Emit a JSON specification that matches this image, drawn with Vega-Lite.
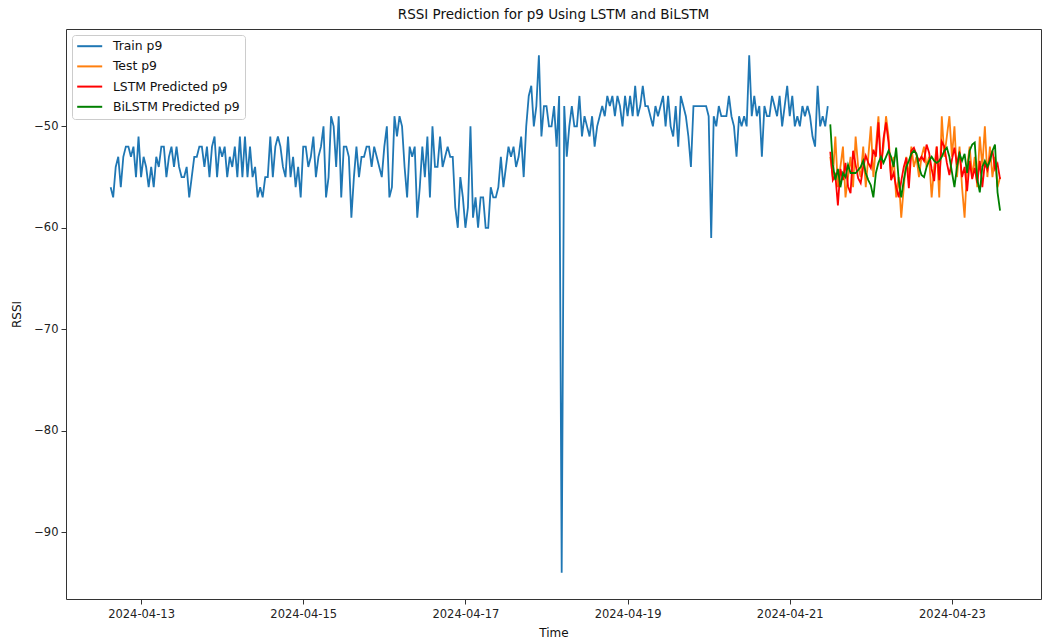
{
"$schema":"https://vega.github.io/schema/vega-lite/v6.json",
"width":975,"height":570,
"autosize":{"type":"none"},
"padding":{"left":66,"top":29,"right":3,"bottom":44},
"title":{"text":"RSSI Prediction for p9 Using LSTM and BiLSTM","anchor":"middle"},
"data":{"values":[
{"t":"2024-04-12T15:00","tr":-56},{"t":"2024-04-12T15:45","tr":-57},{"t":"2024-04-12T16:30","tr":-54},{"t":"2024-04-12T17:15","tr":-53},{"t":"2024-04-12T18:00","tr":-56},{"t":"2024-04-12T18:45","tr":-53},{"t":"2024-04-12T19:30","tr":-52},{"t":"2024-04-12T20:15","tr":-52},{"t":"2024-04-12T21:00","tr":-53},{"t":"2024-04-12T21:45","tr":-52},{"t":"2024-04-12T22:30","tr":-55},{"t":"2024-04-12T23:15","tr":-51},
{"t":"2024-04-13T00:00","tr":-55},{"t":"2024-04-13T00:45","tr":-53},{"t":"2024-04-13T01:30","tr":-54},{"t":"2024-04-13T02:15","tr":-56},{"t":"2024-04-13T03:00","tr":-54},{"t":"2024-04-13T03:45","tr":-56},{"t":"2024-04-13T04:30","tr":-53},{"t":"2024-04-13T05:15","tr":-54},{"t":"2024-04-13T06:00","tr":-52},{"t":"2024-04-13T06:45","tr":-52},{"t":"2024-04-13T07:30","tr":-55},{"t":"2024-04-13T08:15","tr":-53},{"t":"2024-04-13T09:00","tr":-52},{"t":"2024-04-13T09:45","tr":-54},{"t":"2024-04-13T10:30","tr":-52},{"t":"2024-04-13T11:15","tr":-54},{"t":"2024-04-13T12:00","tr":-55},{"t":"2024-04-13T12:45","tr":-55},{"t":"2024-04-13T13:30","tr":-54},{"t":"2024-04-13T14:15","tr":-57},{"t":"2024-04-13T15:00","tr":-55},{"t":"2024-04-13T15:45","tr":-53},{"t":"2024-04-13T16:30","tr":-53},{"t":"2024-04-13T17:15","tr":-52},{"t":"2024-04-13T18:00","tr":-52},{"t":"2024-04-13T18:45","tr":-54},{"t":"2024-04-13T19:30","tr":-52},{"t":"2024-04-13T20:15","tr":-55},{"t":"2024-04-13T21:00","tr":-52},{"t":"2024-04-13T21:45","tr":-51},{"t":"2024-04-13T22:30","tr":-55},{"t":"2024-04-13T23:15","tr":-52},
{"t":"2024-04-14T00:00","tr":-53},{"t":"2024-04-14T00:45","tr":-52},{"t":"2024-04-14T01:30","tr":-55},{"t":"2024-04-14T02:15","tr":-53},{"t":"2024-04-14T03:00","tr":-54},{"t":"2024-04-14T03:45","tr":-52},{"t":"2024-04-14T04:30","tr":-55},{"t":"2024-04-14T05:15","tr":-51},{"t":"2024-04-14T06:00","tr":-55},{"t":"2024-04-14T06:45","tr":-51},{"t":"2024-04-14T07:30","tr":-55},{"t":"2024-04-14T08:15","tr":-52},{"t":"2024-04-14T09:00","tr":-55},{"t":"2024-04-14T09:45","tr":-54},{"t":"2024-04-14T10:30","tr":-57},{"t":"2024-04-14T11:15","tr":-56},{"t":"2024-04-14T12:00","tr":-57},{"t":"2024-04-14T12:45","tr":-55},{"t":"2024-04-14T13:30","tr":-55},{"t":"2024-04-14T14:15","tr":-51},{"t":"2024-04-14T15:00","tr":-55},{"t":"2024-04-14T15:45","tr":-52},{"t":"2024-04-14T16:30","tr":-51},{"t":"2024-04-14T17:15","tr":-52},{"t":"2024-04-14T18:00","tr":-54},{"t":"2024-04-14T18:45","tr":-55},{"t":"2024-04-14T19:30","tr":-51},{"t":"2024-04-14T20:15","tr":-55},{"t":"2024-04-14T21:00","tr":-53},{"t":"2024-04-14T21:45","tr":-56},{"t":"2024-04-14T22:30","tr":-54},{"t":"2024-04-14T23:15","tr":-57},
{"t":"2024-04-15T00:00","tr":-52},{"t":"2024-04-15T00:45","tr":-52},{"t":"2024-04-15T01:30","tr":-54},{"t":"2024-04-15T02:15","tr":-53},{"t":"2024-04-15T03:00","tr":-51},{"t":"2024-04-15T03:45","tr":-55},{"t":"2024-04-15T04:30","tr":-53},{"t":"2024-04-15T05:15","tr":-52},{"t":"2024-04-15T06:00","tr":-50},{"t":"2024-04-15T06:45","tr":-57},{"t":"2024-04-15T07:30","tr":-55},{"t":"2024-04-15T08:15","tr":-49},{"t":"2024-04-15T09:00","tr":-50},{"t":"2024-04-15T09:45","tr":-54},{"t":"2024-04-15T10:30","tr":-49},{"t":"2024-04-15T11:15","tr":-57},{"t":"2024-04-15T12:00","tr":-52},{"t":"2024-04-15T12:45","tr":-52},{"t":"2024-04-15T13:30","tr":-53},{"t":"2024-04-15T14:15","tr":-59},{"t":"2024-04-15T15:00","tr":-55},{"t":"2024-04-15T15:45","tr":-52},{"t":"2024-04-15T16:30","tr":-55},{"t":"2024-04-15T17:15","tr":-53},{"t":"2024-04-15T18:00","tr":-53},{"t":"2024-04-15T18:45","tr":-52},{"t":"2024-04-15T19:30","tr":-52},{"t":"2024-04-15T20:15","tr":-54},{"t":"2024-04-15T21:00","tr":-52},{"t":"2024-04-15T21:45","tr":-53},{"t":"2024-04-15T22:30","tr":-54},{"t":"2024-04-15T23:15","tr":-55},
{"t":"2024-04-16T00:00","tr":-52},{"t":"2024-04-16T00:45","tr":-50},{"t":"2024-04-16T01:30","tr":-57},{"t":"2024-04-16T02:15","tr":-56},{"t":"2024-04-16T03:00","tr":-49},{"t":"2024-04-16T03:45","tr":-51},{"t":"2024-04-16T04:30","tr":-49},{"t":"2024-04-16T05:15","tr":-50},{"t":"2024-04-16T06:00","tr":-54},{"t":"2024-04-16T06:45","tr":-57},{"t":"2024-04-16T07:30","tr":-52},{"t":"2024-04-16T08:15","tr":-53},{"t":"2024-04-16T09:00","tr":-52},{"t":"2024-04-16T09:45","tr":-59},{"t":"2024-04-16T10:30","tr":-56},{"t":"2024-04-16T11:15","tr":-52},{"t":"2024-04-16T12:00","tr":-55},{"t":"2024-04-16T12:45","tr":-51},{"t":"2024-04-16T13:30","tr":-57},{"t":"2024-04-16T14:15","tr":-50},{"t":"2024-04-16T15:00","tr":-54},{"t":"2024-04-16T15:45","tr":-54},{"t":"2024-04-16T16:30","tr":-51},{"t":"2024-04-16T17:15","tr":-54},{"t":"2024-04-16T18:00","tr":-53},{"t":"2024-04-16T18:45","tr":-52},{"t":"2024-04-16T19:30","tr":-53},{"t":"2024-04-16T20:15","tr":-53},{"t":"2024-04-16T21:00","tr":-58},{"t":"2024-04-16T21:45","tr":-60},{"t":"2024-04-16T22:30","tr":-55},{"t":"2024-04-16T23:15","tr":-57},
{"t":"2024-04-17T00:00","tr":-60},{"t":"2024-04-17T00:45","tr":-58},{"t":"2024-04-17T01:30","tr":-50},{"t":"2024-04-17T02:15","tr":-59},{"t":"2024-04-17T03:00","tr":-57},{"t":"2024-04-17T03:45","tr":-60},{"t":"2024-04-17T04:30","tr":-57},{"t":"2024-04-17T05:15","tr":-57},{"t":"2024-04-17T06:00","tr":-60},{"t":"2024-04-17T06:45","tr":-60},{"t":"2024-04-17T07:30","tr":-56},{"t":"2024-04-17T08:15","tr":-57},{"t":"2024-04-17T09:00","tr":-57},{"t":"2024-04-17T09:45","tr":-56},{"t":"2024-04-17T10:30","tr":-53},{"t":"2024-04-17T11:15","tr":-56},{"t":"2024-04-17T12:00","tr":-54},{"t":"2024-04-17T12:45","tr":-52},{"t":"2024-04-17T13:30","tr":-53},{"t":"2024-04-17T14:15","tr":-52},{"t":"2024-04-17T15:00","tr":-54},{"t":"2024-04-17T15:45","tr":-53},{"t":"2024-04-17T16:30","tr":-51},{"t":"2024-04-17T17:15","tr":-55},{"t":"2024-04-17T18:00","tr":-50},{"t":"2024-04-17T18:45","tr":-47},{"t":"2024-04-17T19:30","tr":-46},{"t":"2024-04-17T20:15","tr":-50},{"t":"2024-04-17T21:00","tr":-48},{"t":"2024-04-17T21:45","tr":-43},{"t":"2024-04-17T22:30","tr":-51},{"t":"2024-04-17T23:15","tr":-48},
{"t":"2024-04-18T00:00","tr":-48},{"t":"2024-04-18T00:45","tr":-50},{"t":"2024-04-18T01:30","tr":-50},{"t":"2024-04-18T02:15","tr":-48},{"t":"2024-04-18T03:00","tr":-52},{"t":"2024-04-18T03:45","tr":-47},{"t":"2024-04-18T04:30","tr":-94},{"t":"2024-04-18T05:15","tr":-48},{"t":"2024-04-18T06:00","tr":-53},{"t":"2024-04-18T06:45","tr":-50},{"t":"2024-04-18T07:30","tr":-48},{"t":"2024-04-18T08:15","tr":-50},{"t":"2024-04-18T09:00","tr":-50},{"t":"2024-04-18T09:45","tr":-47},{"t":"2024-04-18T10:30","tr":-51},{"t":"2024-04-18T11:15","tr":-49},{"t":"2024-04-18T12:00","tr":-50},{"t":"2024-04-18T12:45","tr":-51},{"t":"2024-04-18T13:30","tr":-49},{"t":"2024-04-18T14:15","tr":-52},{"t":"2024-04-18T15:00","tr":-50},{"t":"2024-04-18T15:45","tr":-49},{"t":"2024-04-18T16:30","tr":-48},{"t":"2024-04-18T17:15","tr":-49},{"t":"2024-04-18T18:00","tr":-47},{"t":"2024-04-18T18:45","tr":-48},{"t":"2024-04-18T19:30","tr":-47},{"t":"2024-04-18T20:15","tr":-49},{"t":"2024-04-18T21:00","tr":-47},{"t":"2024-04-18T21:45","tr":-48},{"t":"2024-04-18T22:30","tr":-50},{"t":"2024-04-18T23:15","tr":-47},
{"t":"2024-04-19T00:00","tr":-49},{"t":"2024-04-19T00:45","tr":-47},{"t":"2024-04-19T01:30","tr":-49},{"t":"2024-04-19T02:15","tr":-46},{"t":"2024-04-19T03:00","tr":-49},{"t":"2024-04-19T03:45","tr":-48},{"t":"2024-04-19T04:30","tr":-46},{"t":"2024-04-19T05:15","tr":-48},{"t":"2024-04-19T06:00","tr":-48},{"t":"2024-04-19T06:45","tr":-49},{"t":"2024-04-19T07:30","tr":-50},{"t":"2024-04-19T08:15","tr":-48},{"t":"2024-04-19T09:00","tr":-49},{"t":"2024-04-19T09:45","tr":-48},{"t":"2024-04-19T10:30","tr":-47},{"t":"2024-04-19T11:15","tr":-50},{"t":"2024-04-19T12:00","tr":-47},{"t":"2024-04-19T12:45","tr":-50},{"t":"2024-04-19T13:30","tr":-51},{"t":"2024-04-19T14:15","tr":-48},{"t":"2024-04-19T15:00","tr":-52},{"t":"2024-04-19T15:45","tr":-47},{"t":"2024-04-19T16:30","tr":-48},{"t":"2024-04-19T17:15","tr":-49},{"t":"2024-04-19T18:00","tr":-51},{"t":"2024-04-19T18:45","tr":-54},{"t":"2024-04-19T19:30","tr":-48},{"t":"2024-04-19T20:15","tr":-48},{"t":"2024-04-19T21:00","tr":-48},{"t":"2024-04-19T21:45","tr":-48},{"t":"2024-04-19T22:30","tr":-48},{"t":"2024-04-19T23:15","tr":-48},
{"t":"2024-04-20T00:00","tr":-49},{"t":"2024-04-20T00:45","tr":-61},{"t":"2024-04-20T01:30","tr":-49},{"t":"2024-04-20T02:15","tr":-50},{"t":"2024-04-20T03:00","tr":-48},{"t":"2024-04-20T03:45","tr":-49},{"t":"2024-04-20T04:30","tr":-49},{"t":"2024-04-20T05:15","tr":-49},{"t":"2024-04-20T06:00","tr":-47},{"t":"2024-04-20T06:45","tr":-49},{"t":"2024-04-20T07:30","tr":-50},{"t":"2024-04-20T08:15","tr":-53},{"t":"2024-04-20T09:00","tr":-49},{"t":"2024-04-20T09:45","tr":-50},{"t":"2024-04-20T10:30","tr":-49},{"t":"2024-04-20T11:15","tr":-50},{"t":"2024-04-20T12:00","tr":-43},{"t":"2024-04-20T12:45","tr":-49},{"t":"2024-04-20T13:30","tr":-47},{"t":"2024-04-20T14:15","tr":-49},{"t":"2024-04-20T15:00","tr":-48},{"t":"2024-04-20T15:45","tr":-53},{"t":"2024-04-20T16:30","tr":-48},{"t":"2024-04-20T17:15","tr":-49},{"t":"2024-04-20T18:00","tr":-49},{"t":"2024-04-20T18:45","tr":-47},{"t":"2024-04-20T19:30","tr":-48},{"t":"2024-04-20T20:15","tr":-49},{"t":"2024-04-20T21:00","tr":-47},{"t":"2024-04-20T21:45","tr":-50},{"t":"2024-04-20T22:30","tr":-48},{"t":"2024-04-20T23:15","tr":-46},
{"t":"2024-04-21T00:00","tr":-49},{"t":"2024-04-21T00:45","tr":-47},{"t":"2024-04-21T01:30","tr":-50},{"t":"2024-04-21T02:15","tr":-49},{"t":"2024-04-21T03:00","tr":-50},{"t":"2024-04-21T03:45","tr":-48},{"t":"2024-04-21T04:30","tr":-49},{"t":"2024-04-21T05:15","tr":-48},{"t":"2024-04-21T06:00","tr":-49},{"t":"2024-04-21T06:45","tr":-51},{"t":"2024-04-21T07:30","tr":-52},{"t":"2024-04-21T08:15","tr":-46},{"t":"2024-04-21T09:00","tr":-50},{"t":"2024-04-21T09:45","tr":-49},{"t":"2024-04-21T10:30","tr":-50},{"t":"2024-04-21T11:15","tr":-48},
{"t":"2024-04-21T12:00","te":-53,"l":-52.5,"b":-49.8},{"t":"2024-04-21T12:45","te":-55,"l":-55.3,"b":-53.8},{"t":"2024-04-21T13:30","te":-51,"l":-54.8,"b":-55.3},{"t":"2024-04-21T14:15","te":-56,"l":-57.8,"b":-54.2},{"t":"2024-04-21T15:00","te":-54,"l":-54.2,"b":-56.0},{"t":"2024-04-21T15:45","te":-52,"l":-55.3,"b":-54.6},{"t":"2024-04-21T16:30","te":-57,"l":-53.6,"b":-55.0},{"t":"2024-04-21T17:15","te":-55,"l":-55.9,"b":-53.8},{"t":"2024-04-21T18:00","te":-53,"l":-56.6,"b":-54.6},{"t":"2024-04-21T18:45","te":-56,"l":-52.4,"b":-54.6},{"t":"2024-04-21T19:30","te":-51,"l":-53.8,"b":-54.6},{"t":"2024-04-21T20:15","te":-54,"l":-55.1,"b":-54.3},{"t":"2024-04-21T21:00","te":-55,"l":-55.6,"b":-54.0},{"t":"2024-04-21T21:45","te":-52,"l":-54.0,"b":-53.4},{"t":"2024-04-21T22:30","te":-56,"l":-52.9,"b":-54.6},{"t":"2024-04-21T23:15","te":-53,"l":-53.6,"b":-55.3},
{"t":"2024-04-22T00:00","te":-50,"l":-54.1,"b":-55.8},{"t":"2024-04-22T00:45","te":-55,"l":-52.3,"b":-57.0},{"t":"2024-04-22T01:30","te":-52,"l":-53.0,"b":-54.6},{"t":"2024-04-22T02:15","te":-49,"l":-49.6,"b":-53.6},{"t":"2024-04-22T03:00","te":-54,"l":-54.2,"b":-53.0},{"t":"2024-04-22T03:45","te":-52,"l":-51.2,"b":-53.6},{"t":"2024-04-22T04:30","te":-49,"l":-49.6,"b":-53.0},{"t":"2024-04-22T05:15","te":-51,"l":-51.6,"b":-52.4},{"t":"2024-04-22T06:00","te":-55,"l":-55.3,"b":-53.0},{"t":"2024-04-22T06:45","te":-53,"l":-54.6,"b":-54.0},{"t":"2024-04-22T07:30","te":-57,"l":-56.0,"b":-52.1},{"t":"2024-04-22T08:15","te":-55,"l":-57.0,"b":-55.3},{"t":"2024-04-22T09:00","te":-59,"l":-55.4,"b":-57.0},{"t":"2024-04-22T09:45","te":-56,"l":-54.0,"b":-55.3},{"t":"2024-04-22T10:30","te":-53,"l":-53.1,"b":-54.0},{"t":"2024-04-22T11:15","te":-55,"l":-56.1,"b":-53.4},{"t":"2024-04-22T12:00","te":-52,"l":-52.4,"b":-52.7},{"t":"2024-04-22T12:45","te":-54,"l":-52.1,"b":-52.4},{"t":"2024-04-22T13:30","te":-53,"l":-52.8,"b":-52.7},{"t":"2024-04-22T14:15","te":-55,"l":-53.4,"b":-54.0},{"t":"2024-04-22T15:00","te":-53,"l":-53.0,"b":-54.8},{"t":"2024-04-22T15:45","te":-52,"l":-53.4,"b":-55.0},{"t":"2024-04-22T16:30","te":-54,"l":-51.8,"b":-54.0},{"t":"2024-04-22T17:15","te":-53,"l":-52.6,"b":-53.4},{"t":"2024-04-22T18:00","te":-57,"l":-54.2,"b":-53.0},{"t":"2024-04-22T18:45","te":-54,"l":-55.4,"b":-53.4},{"t":"2024-04-22T19:30","te":-52,"l":-52.0,"b":-53.6},{"t":"2024-04-22T20:15","te":-57,"l":-55.3,"b":-53.4},{"t":"2024-04-22T21:00","te":-49,"l":-51.5,"b":-53.0},{"t":"2024-04-22T21:45","te":-53,"l":-52.0,"b":-52.4},{"t":"2024-04-22T22:30","te":-51,"l":-53.6,"b":-52.1},{"t":"2024-04-22T23:15","te":-49,"l":-54.8,"b":-53.0},
{"t":"2024-04-23T00:00","te":-53,"l":-53.3,"b":-54.5},{"t":"2024-04-23T00:45","te":-50,"l":-52.1,"b":-56.0},{"t":"2024-04-23T01:30","te":-55,"l":-53.8,"b":-54.0},{"t":"2024-04-23T02:15","te":-52,"l":-52.5,"b":-52.7},{"t":"2024-04-23T03:00","te":-56,"l":-55.0,"b":-53.4},{"t":"2024-04-23T03:45","te":-59,"l":-54.0,"b":-52.7},{"t":"2024-04-23T04:30","te":-54,"l":-56.4,"b":-54.6},{"t":"2024-04-23T05:15","te":-52,"l":-53.4,"b":-52.4},{"t":"2024-04-23T06:00","te":-55,"l":-55.2,"b":-51.8},{"t":"2024-04-23T06:45","te":-53,"l":-54.1,"b":-51.6},{"t":"2024-04-23T07:30","te":-56,"l":-55.6,"b":-55.2},{"t":"2024-04-23T08:15","te":-51,"l":-53.4,"b":-56.5},{"t":"2024-04-23T09:00","te":-54,"l":-56.0,"b":-54.0},{"t":"2024-04-23T09:45","te":-50,"l":-53.6,"b":-53.4},{"t":"2024-04-23T10:30","te":-55,"l":-54.3,"b":-54.0},{"t":"2024-04-23T11:15","te":-52,"l":-53.1,"b":-53.4},{"t":"2024-04-23T12:00","te":-55,"l":-52.4,"b":-52.4},{"t":"2024-04-23T12:45","te":-53,"l":-54.2,"b":-51.8},{"t":"2024-04-23T13:30","te":-56,"l":-53.7,"b":-56.5},{"t":"2024-04-23T14:15","te":-55,"l":-55.2,"b":-58.3}
]},
"transform":[
{"fold":["tr","te","l","b"],"as":["k","v"]},
{"filter":"isValid(datum.v)"}
],
"mark":{"type":"line","strokeWidth":1.8,"clip":true},
"encoding":{
"x":{"field":"t","type":"temporal",
"scale":{"domain":[{"year":2024,"month":4,"date":12,"hours":1,"minutes":47},{"year":2024,"month":4,"date":24,"hours":2,"minutes":22}]},
"axis":{"title":"Time","format":"%Y-%m-%d","values":[{"year":2024,"month":4,"date":13},{"year":2024,"month":4,"date":15},{"year":2024,"month":4,"date":17},{"year":2024,"month":4,"date":19},{"year":2024,"month":4,"date":21},{"year":2024,"month":4,"date":23}],"labelPadding":4,"titlePadding":8}},
"y":{"field":"v","type":"quantitative",
"scale":{"domain":[-96.6,-40.4],"nice":false,"zero":false},
"axis":{"title":"RSSI","values":[-90,-80,-70,-60,-50],"labelPadding":3,"titlePadding":10}},
"color":{"field":"k","type":"nominal",
"scale":{"domain":["tr","te","l","b"],"range":["#1f77b4","#ff7f0e","#ff0000","#008000"]},
"legend":{"title":null,"labelExpr":"datum.label == 'tr' ? 'Train p9' : datum.label == 'te' ? 'Test p9' : datum.label == 'l' ? 'LSTM Predicted p9' : 'BiLSTM Predicted p9'"}}
},
"config":{
"font":"DejaVu Sans",
"view":{"stroke":"#333","strokeWidth":1},
"axis":{"domain":false,"grid":false,"tickColor":"#333","tickSize":5,"labelFontSize":11.5,"labelColor":"#222","titleFontSize":12,"titleFontWeight":"normal","titleColor":"#111","labelFont":"DejaVu Sans","titleFont":"DejaVu Sans"},
"title":{"fontSize":13.5,"fontWeight":"normal","font":"DejaVu Sans","color":"#111","offset":8},
"legend":{"orient":"top-left","offset":6,"padding":5,"fillColor":"white","strokeColor":"#ccc","cornerRadius":3,"symbolType":"M-2.5,0H2.5","symbolSize":100,"symbolStrokeWidth":2,"symbolOffset":6.5,"labelOffset":17,"labelFontSize":12.4,"labelFont":"DejaVu Sans","labelColor":"#111","rowPadding":7.2}
}
}
